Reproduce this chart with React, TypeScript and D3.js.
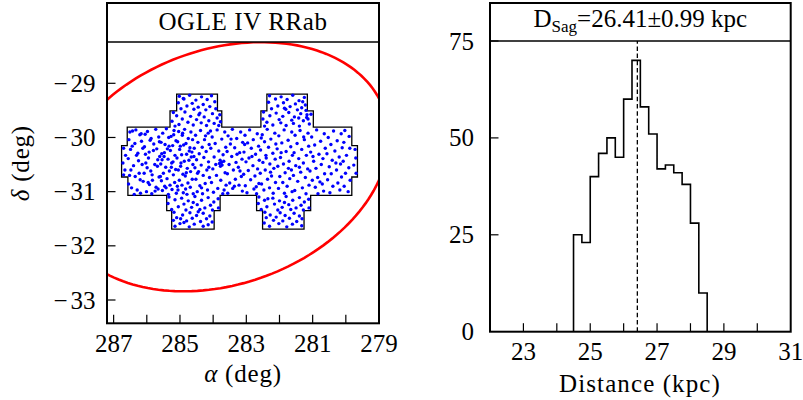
import React from 'react';
import * as d3 from 'd3';

// ---------- data ----------
const alphaTicks = [287, 286, 285, 284, 283, 282, 281, 280, 279];
const alphaLabels = [287, 285, 283, 281, 279];
const deltaTicks = [-29, -30, -31, -32, -33];
const distTicks = [23, 24, 25, 26, 27, 28, 29, 30];
const distLabels = [23, 25, 27, 29, 31];
const countTicks = [25, 50, 75];
const countLabels = [0, 25, 50, 75];

const binEdges = [24.5, 24.75, 25.0, 25.25, 25.5, 25.75, 26.0, 26.25, 26.5, 26.75, 27.0, 27.25, 27.5, 27.75, 28.0, 28.25, 28.5];
const binCounts = [25, 23, 40, 46, 50, 45, 60, 70, 58, 51, 42, 43, 41, 38, 28, 10];
const dSag = 26.41;

const ellipseCenter = [283.72, -30.54];
const ellipseAxes = [5.05, 2.22];
const ellipseAngleDeg = -7.6;

const footprint: [number, number][] = [
  [285.10, -29.20], [283.87, -29.20], [283.87, -29.51], [283.74, -29.51], [283.74, -29.81],
  [282.56, -29.81], [282.56, -29.51], [282.38, -29.51], [282.38, -29.20], [281.16, -29.20],
  [281.16, -29.51], [280.98, -29.51], [280.98, -29.81], [279.82, -29.81], [279.82, -30.15],
  [279.65, -30.15], [279.65, -30.73], [279.82, -30.73], [279.82, -31.07], [281.06, -31.07],
  [281.06, -31.35], [281.26, -31.35], [281.26, -31.69], [282.51, -31.69], [282.51, -31.35],
  [282.69, -31.35], [282.69, -31.07], [283.79, -31.07], [283.79, -31.35], [283.97, -31.35],
  [283.97, -31.69], [285.25, -31.69], [285.25, -31.35], [285.40, -31.35], [285.40, -31.07],
  [286.57, -31.07], [286.57, -30.73], [286.76, -30.73], [286.76, -30.15], [286.59, -30.15],
  [286.59, -29.81], [285.30, -29.81], [285.30, -29.51], [285.10, -29.51]
];

const rrab: [number, number][] = [
  // main body
  [286.43,-29.88],[286.17,-29.93],[286.21,-29.95],[286.54,-30.04],[286.36,-30.11],[286.12,-30.2],[286.49,-30.22],[286.27,-30.29],[286.31,-30.33],[286.56,-30.39],[286.14,-30.5],[286.4,-30.52],[286.23,-30.66],[286.52,-30.7],[286.35,-30.72],[286.11,-30.81],[286.46,-30.93],[286.29,-30.97],[286.19,-31.03],[286.55,-30.86],[286.33,-29.86],[286.25,-30.43],[286.48,-30.6],[286.16,-30.07],[286.38,-31.05],[286.51,-29.9],[286.2,-30.78],[286.44,-30.16],
  [285.73,-29.85],[285.98,-29.89],[285.64,-29.99],[285.87,-30.02],[285.9,-30.05],[286.07,-30.17],[285.7,-30.21],[285.8,-30.24],[285.61,-30.35],[285.95,-30.38],[286.03,-30.47],[285.76,-30.5],[285.68,-30.53],[285.88,-30.62],[286.08,-30.66],[285.63,-30.73],[285.83,-30.79],[285.96,-30.83],[285.72,-30.92],[285.66,-30.95],[286.01,-31.0],[285.85,-31.04],[285.79,-30.12],[285.93,-30.27],[286.05,-29.94],[285.67,-30.41],[285.84,-30.69],[285.99,-30.56],[285.75,-30.99],[285.62,-30.08],[285.92,-30.87],[286.04,-30.31],
  [285.41,-29.84],[285.18,-29.87],[285.52,-29.92],[285.27,-29.98],[285.34,-30.0],[285.12,-30.06],[285.57,-30.09],[285.45,-30.13],[285.22,-30.15],[285.38,-30.21],[285.29,-30.24],[285.55,-30.3],[285.15,-30.33],[285.48,-30.35],[285.36,-30.4],[285.21,-30.45],[285.25,-30.47],[285.58,-30.49],[285.43,-30.55],[285.13,-30.59],[285.32,-30.62],[285.5,-30.66],[285.2,-30.69],[285.39,-30.76],[285.56,-30.8],[285.16,-30.83],[285.3,-30.88],[285.46,-30.9],[285.24,-30.96],[285.53,-30.98],[285.11,-31.03],[285.35,-31.05],[285.47,-30.28],[285.26,-30.55],[285.59,-30.72],[285.19,-29.95],[285.42,-30.93],[285.33,-30.16],[285.54,-30.41],
  [284.86,-29.85],[285.04,-29.89],[284.67,-29.9],[284.93,-29.96],[284.75,-30.02],[284.62,-30.04],[285.07,-30.08],[284.82,-30.11],[284.89,-30.14],[284.7,-30.19],[285.01,-30.22],[284.64,-30.27],[284.8,-30.31],[284.95,-30.32],[285.09,-30.38],[284.73,-30.42],[284.87,-30.44],[284.61,-30.5],[284.98,-30.53],[284.78,-30.57],[285.05,-30.6],[284.68,-30.63],[284.91,-30.68],[284.84,-30.71],[284.63,-30.77],[285.02,-30.79],[284.76,-30.84],[284.94,-30.88],[284.69,-30.92],[284.83,-30.95],[285.06,-30.97],[284.6,-31.04],[284.9,-31.02],[284.72,-30.25],[284.97,-30.47],[284.81,-30.65],[285.08,-30.9],[284.66,-30.36],[284.92,-29.92],[284.79,-31.05],[284.99,-30.16],
  [284.38,-29.87],[284.15,-29.92],[284.53,-29.96],[284.26,-30.04],[284.46,-30.09],[284.12,-30.13],[284.33,-30.18],[284.57,-30.2],[284.21,-30.26],[284.42,-30.3],[284.28,-30.37],[284.5,-30.41],[284.14,-30.45],[284.36,-30.51],[284.55,-30.56],[284.19,-30.6],[284.44,-30.63],[284.3,-30.7],[284.11,-30.74],[284.52,-30.77],[284.24,-30.85],[284.4,-30.89],[284.17,-30.97],[284.48,-31.0],[284.32,-31.04],[284.58,-30.35],[284.23,-29.97],[284.47,-30.66],[284.35,-30.93],[284.13,-30.55],
  [283.88,-29.86],[283.65,-29.9],[284.03,-29.99],[283.74,-30.03],[283.94,-30.11],[283.62,-30.18],[284.07,-30.2],[283.83,-30.25],[283.7,-30.32],[283.97,-30.36],[283.79,-30.42],[283.75,-30.46],[283.81,-30.48],[283.73,-30.51],[283.78,-30.53],[283.68,-30.44],[284.01,-30.58],[283.64,-30.65],[283.9,-30.7],[283.77,-30.79],[284.05,-30.83],[283.61,-30.88],[283.86,-30.94],[283.99,-31.01],[283.71,-31.04],[284.08,-29.88],[283.92,-30.5],[283.67,-30.97],
  [283.42,-29.85],[283.17,-29.9],[283.55,-29.97],[283.29,-30.02],[283.11,-30.09],[283.48,-30.12],[283.35,-30.19],[283.58,-30.26],[283.2,-30.28],[283.44,-30.35],[283.13,-30.4],[283.31,-30.46],[283.52,-30.5],[283.24,-30.55],[283.39,-30.6],[283.57,-30.67],[283.15,-30.72],[283.33,-30.77],[283.5,-30.84],[283.22,-30.88],[283.41,-30.94],[283.12,-30.99],[283.56,-31.03],[283.28,-30.31],[283.46,-30.03],[283.36,-30.9],[283.19,-30.62],
  [282.9,-29.86],[282.67,-29.93],[283.04,-29.96],[282.79,-30.04],[282.96,-30.1],[282.63,-30.16],[282.85,-30.2],[283.07,-30.27],[282.72,-30.31],[282.92,-30.38],[282.61,-30.42],[283.01,-30.45],[282.8,-30.52],[282.66,-30.58],[282.94,-30.61],[283.08,-30.68],[282.74,-30.71],[282.87,-30.78],[282.62,-30.85],[283.03,-30.89],[282.77,-30.95],[282.98,-31.02],[282.69,-31.04],[282.83,-30.35],[283.05,-30.13],[282.7,-30.91],
  [282.37,-29.85],[282.14,-29.92],[282.52,-29.95],[282.26,-30.03],[282.45,-30.08],[282.11,-30.12],[282.33,-30.18],[282.57,-30.23],[282.2,-30.29],[282.41,-30.33],[282.13,-30.4],[282.5,-30.46],[282.29,-30.49],[282.17,-30.57],[282.43,-30.6],[282.58,-30.66],[282.24,-30.71],[282.36,-30.77],[282.12,-30.83],[282.54,-30.86],[282.3,-30.93],[282.47,-30.97],[282.19,-31.03],[282.4,-30.38],[282.55,-30.01],[282.27,-30.64],
  [281.86,-29.86],[281.63,-29.9],[282.02,-29.97],[281.74,-30.05],[281.93,-30.1],[281.66,-30.17],[282.07,-30.21],[281.8,-30.26],[281.61,-30.33],[281.97,-30.37],[281.71,-30.44],[281.88,-30.49],[282.05,-30.53],[281.64,-30.6],[281.83,-30.65],[281.99,-30.72],[281.69,-30.76],[281.9,-30.83],[281.77,-30.9],[282.03,-30.94],[281.62,-31.0],[281.85,-31.03],[281.95,-30.28],[281.73,-30.57],
  [281.38,-29.87],[281.14,-29.92],[281.53,-29.96],[281.25,-30.04],[281.47,-30.11],[281.12,-30.16],[281.33,-30.22],[281.56,-30.28],[281.19,-30.33],[281.42,-30.39],[281.28,-30.47],[281.51,-30.52],[281.15,-30.58],[281.36,-30.64],[281.58,-30.7],[281.22,-30.74],[281.45,-30.81],[281.11,-30.88],[281.31,-30.93],[281.54,-30.98],[281.2,-31.04],[281.4,-30.55],[281.27,-29.99],
  [280.88,-29.86],[280.65,-29.93],[281.03,-29.99],[280.76,-30.07],[280.94,-30.14],[280.62,-30.2],[281.06,-30.27],[280.81,-30.31],[280.69,-30.39],[280.97,-30.44],[280.74,-30.5],[280.9,-30.57],[281.08,-30.62],[280.64,-30.67],[280.85,-30.74],[281.01,-30.79],[280.71,-30.86],[280.92,-30.92],[280.67,-30.99],[280.84,-31.04],[280.99,-30.35],[280.78,-30.82],
  [280.37,-29.88],[280.14,-29.93],[280.53,-30.0],[280.26,-30.06],[280.45,-30.13],[280.11,-30.19],[280.33,-30.25],[280.57,-30.3],[280.2,-30.36],[280.41,-30.42],[280.16,-30.49],[280.5,-30.54],[280.28,-30.6],[280.44,-30.67],[280.13,-30.73],[280.55,-30.78],[280.24,-30.84],[280.39,-30.9],[280.18,-30.97],[280.48,-31.02],[280.3,-30.47],
  [280.03,-29.87],[279.9,-29.98],[280.06,-30.09],[279.88,-30.2],[279.98,-30.33],[280.08,-30.44],[279.91,-30.56],[280.01,-30.66],[279.87,-30.79],[280.05,-30.9],[279.93,-31.0],
  [286.7,-30.2],[286.64,-30.33],[286.72,-30.47],[286.66,-30.6],[286.7,-30.69],[279.72,-30.22],[279.7,-30.38],[279.76,-30.51],[279.69,-30.66],
  // top-left field
  [285.02,-29.24],[284.71,-29.22],[284.35,-29.25],[284.05,-29.23],[284.88,-29.29],[284.52,-29.31],[284.18,-29.3],[283.95,-29.34],[285.05,-29.36],[284.63,-29.37],[284.3,-29.39],[284.79,-29.42],[284.45,-29.44],[284.1,-29.43],[284.97,-29.47],[284.58,-29.48],[284.22,-29.49],[283.92,-29.47],[285.2,-29.54],[284.85,-29.53],[284.4,-29.55],[284.02,-29.56],[283.8,-29.58],[285.1,-29.6],[284.68,-29.61],[284.27,-29.62],[283.88,-29.64],[284.93,-29.66],[284.5,-29.67],[284.13,-29.69],[285.24,-29.7],[284.76,-29.72],[284.36,-29.73],[283.97,-29.74],[283.78,-29.71],[285.03,-29.76],[284.6,-29.77],[284.2,-29.78],[284.9,-29.28],[284.43,-29.58],[283.83,-29.78],[285.15,-29.79],
  // top-right field
  [282.3,-29.23],[281.95,-29.25],[281.6,-29.22],[281.25,-29.26],[282.12,-29.29],[281.77,-29.3],[281.41,-29.32],[282.33,-29.35],[281.88,-29.36],[281.52,-29.38],[281.22,-29.4],[282.05,-29.42],[281.68,-29.43],[281.33,-29.45],[282.24,-29.47],[281.81,-29.48],[281.46,-29.49],[282.48,-29.53],[282.1,-29.55],[281.72,-29.54],[281.36,-29.56],[281.05,-29.57],[282.29,-29.6],[281.9,-29.61],[281.55,-29.62],[281.18,-29.63],[282.5,-29.66],[282.01,-29.67],[281.63,-29.68],[281.28,-29.69],[282.38,-29.72],[281.96,-29.73],[281.58,-29.74],[281.1,-29.75],[282.2,-29.77],[281.8,-29.78],[281.4,-29.79],[282.45,-29.79],[281.3,-29.34],[281.85,-29.46],[281.42,-29.64],[281.2,-29.5],[281.17,-29.58],[281.14,-29.66],
  // bottom-left field
  [285.33,-31.1],[284.95,-31.12],[284.55,-31.09],[284.15,-31.11],[283.85,-31.13],[285.15,-31.15],[284.75,-31.17],[284.35,-31.16],[283.98,-31.19],[285.36,-31.22],[284.88,-31.23],[284.48,-31.24],[284.08,-31.25],[285.05,-31.28],[284.65,-31.29],[284.25,-31.3],[283.84,-31.3],[285.25,-31.33],[284.82,-31.34],[284.4,-31.33],[284.02,-31.34],[285.18,-31.38],[284.7,-31.39],[284.3,-31.4],[284.92,-31.43],[284.5,-31.44],[284.1,-31.45],[285.1,-31.48],[284.63,-31.49],[284.2,-31.5],[285.2,-31.53],[284.8,-31.54],[284.38,-31.55],[284.03,-31.56],[285.0,-31.59],[284.57,-31.6],[284.15,-31.61],[285.15,-31.64],[284.72,-31.65],[284.3,-31.64],[284.88,-31.57],[284.45,-31.37],[284.6,-31.2],[284.98,-31.5],
  // bottom-right field
  [282.62,-31.1],[282.2,-31.12],[281.8,-31.09],[281.4,-31.11],[281.12,-31.14],[282.45,-31.16],[282.0,-31.17],[281.6,-31.16],[281.25,-31.19],[282.64,-31.22],[282.15,-31.23],[281.72,-31.24],[281.35,-31.25],[282.38,-31.28],[281.92,-31.29],[281.5,-31.3],[281.11,-31.3],[282.55,-31.33],[282.05,-31.34],[281.66,-31.33],[281.28,-31.34],[282.44,-31.38],[281.98,-31.39],[281.56,-31.4],[282.28,-31.43],[281.83,-31.44],[281.4,-31.45],[282.4,-31.48],[281.7,-31.49],[281.32,-31.5],[282.18,-31.53],[281.9,-31.54],[281.48,-31.55],[282.46,-31.58],[282.02,-31.59],[281.61,-31.6],[281.33,-31.63],[282.3,-31.64],[281.78,-31.65],[282.1,-31.47],[281.85,-31.2],[282.35,-31.13]
];

// ---------- layout ----------
const FONT = 'Liberation Serif';
const L = { x0: 107, x1: 379, top: 3, title: 42, bottom: 323.3 };
const R = { x0: 490, x1: 790.7, top: 3, title: 41, bottom: 331.7 };
const TICK = 8.5;
const txt = { fontFamily: FONT, fontSize: 25 } as const;

export default function App() {
  const xA = d3.scaleLinear().domain([287.2, 279]).range([L.x0, L.x1]);
  const yD = d3.scaleLinear().domain([-29, -33]).range([83.3, 300]);
  const xK = d3.scaleLinear().domain([22, 31]).range([R.x0, R.x1]);
  const yN = d3.scaleLinear().domain([0, 75]).range([R.bottom, R.title]);

  const line = d3.line<[number, number]>();

  const polyPath = line(footprint.map(([a, d]) => [xA(a), yD(d)] as [number, number])) + 'Z';

  const th = (ellipseAngleDeg * Math.PI) / 180;
  const ellPts: [number, number][] = d3.range(0, 361, 2).map((deg) => {
    const t = (deg * Math.PI) / 180;
    const u = ellipseAxes[0] * Math.cos(t) * Math.cos(th) - ellipseAxes[1] * Math.sin(t) * Math.sin(th);
    const v = ellipseAxes[0] * Math.cos(t) * Math.sin(th) + ellipseAxes[1] * Math.sin(t) * Math.cos(th);
    return [xA(ellipseCenter[0] + u), yD(ellipseCenter[1] + v)];
  });
  const ellPath = line(ellPts) + 'Z';

  const histPts: [number, number][] = [[binEdges[0], 0]];
  binCounts.forEach((c, i) => {
    histPts.push([binEdges[i], c], [binEdges[i + 1], c]);
  });
  histPts.push([binEdges[binEdges.length - 1], 0]);
  const histPath = line(histPts.map(([x, y]) => [xK(x), yN(y)] as [number, number]));

  const fmtMinus = (v: number) => (v < 0 ? '\u2212' + Math.abs(v) : String(v));

  return (
    <svg width={803} height={400} style={{ position: 'absolute', left: 0, top: 0, display: 'block', background: '#fff' }}>
      <defs>
        <clipPath id="clipL">
          <rect x={L.x0} y={L.title} width={L.x1 - L.x0} height={L.bottom - L.title} />
        </clipPath>
      </defs>

      {/* ---------- left panel ---------- */}
      <g clipPath="url(#clipL)">
        <path d={polyPath} fill="none" stroke="#000" strokeWidth={1.3} />
        {rrab.map(([a, d], i) => (
          <circle key={i} cx={xA(a)} cy={yD(d)} r={1.7} fill="#0000ff" />
        ))}
        <path d={ellPath} fill="none" stroke="#ff0000" strokeWidth={2.6} />
      </g>
      {alphaTicks.map((t) => (
        <line key={'xa' + t} x1={xA(t)} x2={xA(t)} y1={L.bottom} y2={L.bottom - TICK} stroke="#000" strokeWidth={1.2} />
      ))}
      {deltaTicks.map((t) => (
        <line key={'yd' + t} x1={L.x0} x2={L.x0 + TICK} y1={yD(t)} y2={yD(t)} stroke="#000" strokeWidth={1.2} />
      ))}
      <rect x={L.x0} y={L.top} width={L.x1 - L.x0} height={L.bottom - L.top} fill="none" stroke="#000" strokeWidth={2} />
      <line x1={L.x0} x2={L.x1} y1={L.title} y2={L.title} stroke="#000" strokeWidth={1.6} />
      <text x={(L.x0 + L.x1) / 2} y={29.5} style={txt} textAnchor="middle" letterSpacing={0.6}>OGLE IV RRab</text>
      {alphaLabels.map((t) => (
        <text key={'xl' + t} x={xA(t)} y={351.7} style={txt} textAnchor="middle">{t}</text>
      ))}
      {deltaTicks.map((t) => (
        <text key={'yl' + t} x={95.5} y={yD(t) + 8.5} style={txt} textAnchor="end">
          <tspan dx={0}>{fmtMinus(t).slice(0, 1)}</tspan><tspan dx={3}>{fmtMinus(t).slice(1)}</tspan>
        </text>
      ))}
      <text x={243} y={382} style={txt} textAnchor="middle" letterSpacing={0.8}>
        <tspan fontStyle="italic">α</tspan> (deg)
      </text>
      <text transform={`translate(29,${(L.top + L.bottom) / 2}) rotate(-90)`} style={txt} textAnchor="middle" letterSpacing={0.8}>
        <tspan fontStyle="italic">δ</tspan> (deg)
      </text>

      {/* ---------- right panel ---------- */}
      <path d={histPath ?? ''} fill="none" stroke="#000" strokeWidth={1.6} />
      <line x1={xK(dSag)} x2={xK(dSag)} y1={yN(0)} y2={yN(75)} stroke="#000" strokeWidth={1.3} strokeDasharray="4.5,2.7" />
      {distTicks.map((t) => (
        <line key={'xk' + t} x1={xK(t)} x2={xK(t)} y1={R.bottom} y2={R.bottom - TICK} stroke="#000" strokeWidth={1.2} />
      ))}
      {countTicks.map((t) => (
        <line key={'yn' + t} x1={R.x0} x2={R.x0 + TICK} y1={yN(t)} y2={yN(t)} stroke="#000" strokeWidth={1.2} />
      ))}
      <rect x={R.x0} y={R.top} width={R.x1 - R.x0} height={R.bottom - R.top} fill="none" stroke="#000" strokeWidth={2} />
      <line x1={R.x0} x2={R.x1} y1={R.title} y2={R.title} stroke="#000" strokeWidth={1.6} />
      <text x={(R.x0 + R.x1) / 2} y={27} style={txt} textAnchor="middle">
        D<tspan fontSize={17} dy={5}>Sag</tspan><tspan dy={-5}>=26.41±0.99 kpc</tspan>
      </text>
      {distLabels.map((t) => (
        <text key={'kl' + t} x={xK(t)} y={359.7} style={txt} textAnchor="middle">{t}</text>
      ))}
      {countLabels.map((t) => (
        <text key={'nl' + t} x={474} y={yN(t) + 8.5} style={txt} textAnchor="end">{t}</text>
      ))}
      <text x={640} y={392} style={txt} textAnchor="middle" letterSpacing={1.1}>Distance (kpc)</text>
    </svg>
  );
}
